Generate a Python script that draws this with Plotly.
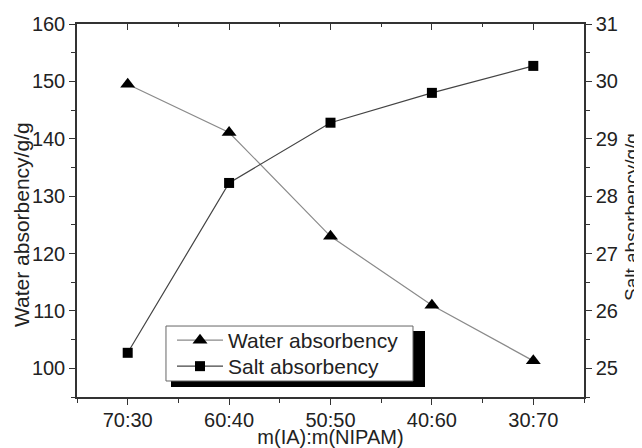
import plotly.graph_objects as go

categories = ["70:30", "60:40", "50:50", "40:60", "30:70"]
water_absorbency = [149.5, 141.1, 123.0, 111.0, 101.3]
salt_absorbency = [25.27, 28.23, 29.28, 29.80, 30.27]
left_ticks = [100, 110, 120, 130, 140, 150, 160]
right_ticks = [25, 26, 27, 28, 29, 30, 31]

xpos = list(range(len(categories)))
FONT = "Liberation Sans, Arial, sans-serif"
AX = "#333333"

fig = go.Figure()
fig.add_trace(go.Scatter(
    x=xpos, y=water_absorbency, name="Water absorbency",
    mode="lines+markers", xaxis="x", yaxis="y", legend="legend",
    line=dict(color="#8a8a8a", width=1.2),
    marker=dict(symbol="triangle-up", size=13, color="black"),
))
fig.add_trace(go.Scatter(
    x=xpos, y=salt_absorbency, name="Salt absorbency",
    mode="lines+markers", xaxis="x2", yaxis="y2", legend="legend2",
    line=dict(color="#444444", width=1.2),
    marker=dict(symbol="square", size=10, color="black"),
))

legend_style = dict(xanchor="left", yanchor="top", bgcolor="rgba(0,0,0,0)",
                    borderwidth=0, itemwidth=46,
                    font=dict(family=FONT, size=21, color="#222222"))

# The page body has an 8px margin, so the figure is drawn 8px in from the corner.
fig.update_layout(
    width=634, height=440,
    margin=dict(l=69, r=58, t=16, b=51, autoexpand=False),
    paper_bgcolor="white", plot_bgcolor="white",
    font=dict(family=FONT, size=20, color="#222222"),
    xaxis=dict(range=[-0.5, 4.5], tickvals=xpos, ticktext=categories,
               showgrid=False, zeroline=False, automargin=False,
               linecolor=AX, linewidth=1.5, tickcolor=AX, tickwidth=1.2,
               ticks="outside", ticklen=6, ticklabelstandoff=-2,
               title=dict(text="m(IA):m(NIPAM)", font=dict(size=20), standoff=0),
               minor=dict(tickvals=[-0.5, 0.5, 1.5, 2.5, 3.5, 4.5], ticks="outside",
                          ticklen=4, tickcolor=AX)),
    xaxis2=dict(range=[-0.5, 4.5], tickvals=xpos, overlaying="x", side="top",
                anchor="y2", showgrid=False, zeroline=False, automargin=False,
                linecolor=AX, linewidth=1.5, tickcolor=AX, tickwidth=1.3,
                ticks="inside", ticklen=6, showticklabels=False,
                minor=dict(tickvals=[0.5, 1.5, 2.5, 3.5], ticks="inside",
                           ticklen=3, tickcolor=AX)),
    yaxis=dict(range=[95, 160], tickvals=left_ticks, ticks="outside", ticklen=6,
               showgrid=False, zeroline=False, automargin=False,
               linecolor=AX, linewidth=1.5, tickcolor=AX, tickwidth=1.2,
               minor=dict(tickvals=[95, 105, 115, 125, 135, 145, 155], ticks="outside",
                          ticklen=4, tickcolor=AX)),
    yaxis2=dict(range=[24.5, 31], tickvals=right_ticks, ticks="outside", ticklen=6,
                overlaying="y", side="right", anchor="x2", automargin=False,
                showgrid=False, zeroline=False, linecolor=AX, linewidth=1.5,
                tickcolor=AX, tickwidth=1.2,
                minor=dict(tickvals=[24.5, 25.5, 26.5, 27.5, 28.5, 29.5, 30.5],
                           ticks="outside", ticklen=4, tickcolor=AX)),
    legend=dict(x=0.1874, y=0.2064, **legend_style),
    legend2=dict(x=0.1874, y=0.1367, **legend_style),
    showlegend=True,
    annotations=[
        dict(text="Water absorbency/g/g", xref="paper", yref="paper",
             x=-0.1104, y=0.4611, xanchor="center", yanchor="middle",
             textangle=-90, showarrow=False, font=dict(size=21, color="#222222")),
        dict(text="Salt absorbency/g/g", xref="paper", yref="paper",
             x=1.0947, y=0.4826, xanchor="center", yanchor="middle",
             textangle=-90, showarrow=False, font=dict(size=19, color="#222222")),
    ],
    shapes=[
        dict(type="rect", xref="paper", yref="paper",
             x0=0.1854, x1=0.6864, y0=0.0268, y1=0.177,
             fillcolor="black", line=dict(width=0), layer="above"),
        dict(type="rect", xref="paper", yref="paper",
             x0=0.1755, x1=0.6627, y0=0.0429, y1=0.1903,
             fillcolor="white", line=dict(color="#666666", width=1), layer="above"),
    ],
)

fig.write_html("out.html")
